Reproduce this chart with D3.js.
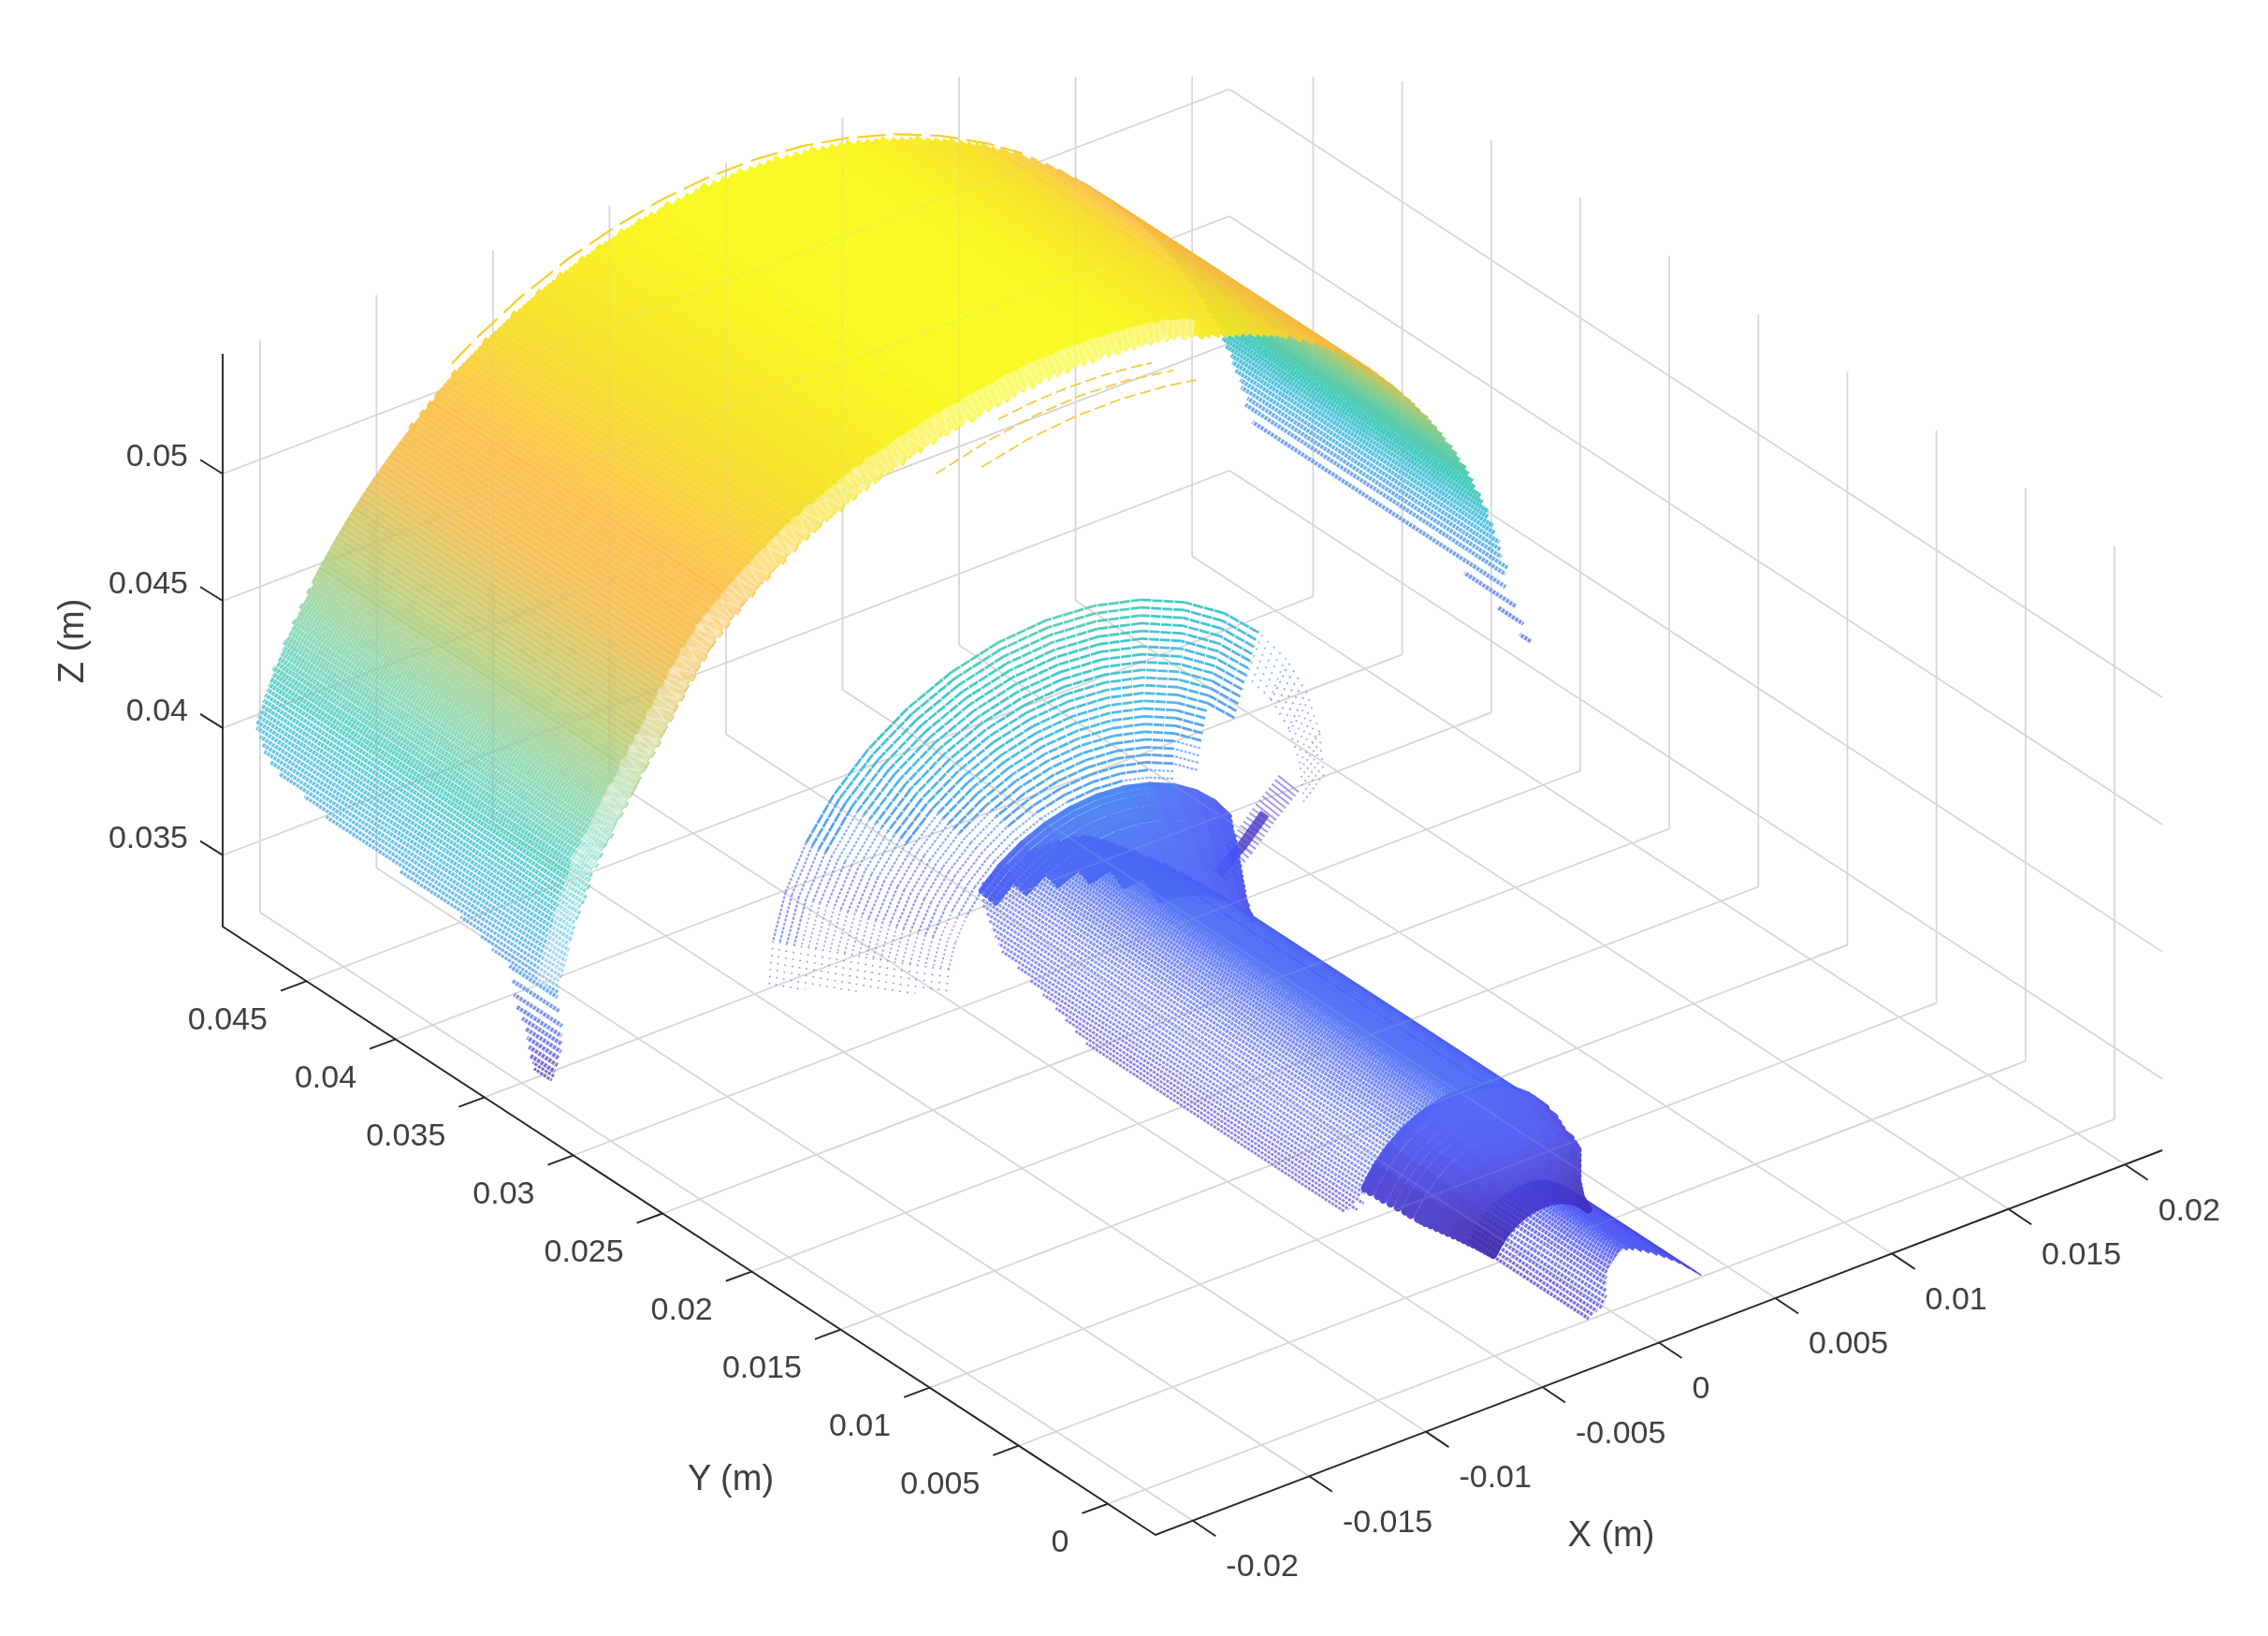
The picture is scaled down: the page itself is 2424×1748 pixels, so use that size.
<!DOCTYPE html>
<html><head><meta charset="utf-8">
<script src="https://cdnjs.cloudflare.com/ajax/libs/d3/7.8.5/d3.min.js"></script>
<style>html,body{margin:0;background:#fff}svg{display:block}text{font-family:"Liberation Sans",Arial,sans-serif;fill:#404040}</style>
</head><body><svg id="c" width="2424" height="1748"></svg>
<script>
// All lengths are millimetres; axis labels show metres.
const xLim=[-21.6,21.6], yLim=[-2.68,49.7], zLim=[32.19,54.72];
const xTicks=[-20,-15,-10,-5,0,5,10,15,20];
const xLabels=["-0.02","-0.015","-0.01","-0.005","0","0.005","0.01","0.015","0.02"];
const yTicks=[0,5,10,15,20,25,30,35,40,45];
const yLabels=["0","0.005","0.01","0.015","0.02","0.025","0.03","0.035","0.04","0.045"];
const zTicks=[35,40,45,50];
const zLabels=["0.035","0.04","0.045","0.05"];
const colorStops=[0,.06,.12,.2,.26,.33,.42,.52,.62,.72,.8,.9,1];
const colorValues=["#3e26a8","#4338d0","#4653f5","#4a68f5","#3f90f2","#2fb0e6","#22c2b8","#6ccc98","#b4c55f","#f0b840","#fcbb3e","#f6e020","#f9fb15"];

// arch, far side of the silhouette
const backX=[21.6,21.6,21.6,21.6,21.6,21.53,21.42,21.30,21.18,21.05,20.91,20.77,20.62,20.46,20.30,20.13,19.96,19.78,19.59,19.40,19.20,19.00,18.79,18.57,18.35,18.12,17.89,17.65,17.41,17.16,16.91,16.65,16.38,16.11,15.84,15.56];
const backZ=[36.0,36.5,37.0,37.5,38.0,38.37,38.75,39.12,39.49,39.86,40.23,40.59,40.95,41.31,41.67,42.02,42.37,42.72,43.06,43.40,43.74,44.07,44.40,44.73,45.05,45.37,45.68,45.99,46.30,46.60,46.90,47.19,47.48,47.76,48.04,48.31];
const backY0=[32.8,33.2,33.6,34.2,34.2,34.0,34.2,34.1,34.0,34.1,34.0,34.1,33.9,34.0,33.9,34.0,33.9,33.9,33.8,33.9,33.8,33.8,33.9,33.8,33.8,33.8,33.7,33.8,33.8,33.7,33.8,33.8,33.7,33.8,33.8,33.8];
const backY1=[33.4,34.6,36.5,48.4,48.8,48.6,48.8,48.7,48.8,48.8,48.7,48.8,48.8,48.7,48.8,48.8,48.8,48.7,48.8,48.8,48.8,48.8,48.8,48.8,48.8,48.8,48.8,48.8,48.8,48.8,48.8,48.8,48.8,48.8,48.8,48.8];

// arch, near side of the silhouette
const archX=[15.28,14.99,14.70,14.40,13.79,13.17,12.53,11.87,11.20,10.86,10.52,10.17,9.82,9.47,9.11,8.75,8.39,8.03,7.66,7.29,6.92,6.55,6.17,5.80,5.42,5.04,4.66,4.27,3.89,3.50,3.12,2.73,2.34,1.95,1.56,1.17,.78,.39,0,-.39,-.78,-1.17,-1.56,-1.95,-2.34,-2.73,-3.12,-3.50,-3.89,
-4.08,-4.27,-4.47,-4.66,-4.85,-5.04,-5.23,-5.42,-5.61,-5.80,-5.99,-6.17,-6.36,-6.55,-6.74,-6.92,-7.11,-7.29,-7.48,-7.66,-7.84,-8.03,-8.21,-8.39,-8.57,-8.75,-8.93,-9.11,-9.29,-9.47,-9.64,-9.82,-10.00,-10.17,-10.34,-10.52,-10.69,-10.86,-11.03,-11.20,-11.37,-11.54,-11.70,-11.87,-12.04,-12.20,-12.36,-12.53,-12.69,-12.85,-13.01,-13.17,-13.32,-13.48,-13.64,-13.79,-13.94,-14.10,-14.25,-14.40,-14.55,-14.70,-14.84,-14.99,-15.13,-15.28,-15.42,-15.56,-15.70,-15.84,-15.98,-16.11,-16.25,-16.38,-16.52,-16.65,-16.78,-16.91,-17.03,-17.16,-17.28,-17.41,-17.53,-17.65,-17.77,-17.89,-18.01,-18.12,-18.24,-18.35,-18.46,-18.57,-18.68,-18.79,-18.89,-19.00,-19.10,-19.20,-19.30,-19.40,-19.50,-19.59,-19.69,-19.78,-19.87,-19.96,-20.05,-20.13,-20.22,-20.30,-20.38,-20.46,-20.54,-20.62,-20.70,-20.77,-20.84,-20.91,-20.98,-21.05,-21.11,-21.18,-21.24,-21.30,-21.36,-21.42,-21.48,-21.53,-21.58,-21.60,
-21.5,-21.4,-21.2,-20.9,-20.6,-20.3,-20.0,-19.8,-19.6,-19.4];
const archZ=[48.58,48.85,49.11,49.36,49.85,50.32,50.77,51.20,51.60,51.79,51.98,52.16,52.33,52.50,52.66,52.82,52.97,53.11,53.25,53.38,53.50,53.62,53.73,53.84,53.93,54.03,54.11,54.19,54.26,54.32,54.38,54.43,54.48,54.51,54.55,54.57,54.59,54.60,54.60,54.60,54.59,54.57,54.55,54.51,54.48,54.43,54.38,54.32,54.26,
54.23,54.19,54.15,54.11,54.07,54.03,53.98,53.93,53.89,53.84,53.78,53.73,53.68,53.62,53.56,53.50,53.44,53.38,53.31,53.25,53.18,53.11,53.04,52.97,52.90,52.82,52.74,52.66,52.58,52.50,52.42,52.33,52.25,52.16,52.07,51.98,51.89,51.79,51.70,51.60,51.50,51.40,51.30,51.20,51.09,50.99,50.88,50.77,50.66,50.55,50.44,50.32,50.21,50.09,49.97,49.85,49.73,49.61,49.48,49.36,49.23,49.11,48.98,48.85,48.72,48.58,48.45,48.31,48.18,48.04,47.90,47.76,47.62,47.48,47.33,47.19,47.04,46.90,46.75,46.60,46.45,46.30,46.14,45.99,45.84,45.68,45.52,45.37,45.21,45.05,44.89,44.73,44.56,44.40,44.24,44.07,43.90,43.74,43.57,43.40,43.23,43.06,42.89,42.72,42.54,42.37,42.19,42.02,41.84,41.67,41.49,41.31,41.13,40.95,40.77,40.59,40.41,40.23,40.04,39.86,39.68,39.49,39.31,39.12,38.94,38.75,38.56,38.37,38.19,38.00,
37.4,36.8,36.2,35.6,35.0,34.4,33.8,33.3,32.9,32.5];
const archY0=[33.8,33.8,33.7,33.7,33.5,33.3,33.1,32.9,32.8,32.7,32.6,32.5,32.4,32.3,32.3,32.2,32.1,32.0,32.0,32.0,31.9,32.0,31.9,32.0,31.9,31.9,31.8,31.8,31.7,31.7,31.6,31.6,31.6,31.5,31.5,31.5,31.4,31.4,31.4,31.4,31.3,31.3,31.3,31.2,31.2,31.2,31.2,31.1,31.2,
31.2,31.1,31.2,31.1,31.2,31.2,31.1,31.2,31.2,31.1,31.2,31.2,31.2,31.1,31.2,31.2,31.2,31.3,31.2,31.2,31.3,31.2,31.3,31.3,31.2,31.3,31.3,31.2,31.3,31.3,31.3,31.4,31.3,31.3,31.4,31.3,31.4,31.4,31.3,31.4,31.4,31.3,31.4,31.4,31.4,31.3,31.4,31.4,31.4,31.3,31.4,31.4,31.4,31.3,31.4,31.4,31.3,31.4,31.3,31.4,31.3,31.3,31.3,31.2,31.3,31.2,31.2,31.1,31.2,31.1,
31.1,31.0,31.1,31.0,31.0,30.9,31.0,30.9,30.9,30.9,30.8,30.9,30.8,30.9,30.8,30.8,30.9,30.8,30.8,30.8,30.8,30.9,30.8,30.9,30.8,30.9,30.9,30.9,30.8,30.9,30.9,31.0,30.9,31.0,30.9,31.1,31.0,31.0,30.9,31.0,30.9,30.9,31.0,30.9,30.9,31.0,30.9,30.9,30.9,31.0,30.9,30.9,30.9,30.9,30.9,30.9,31.0,30.9,30.9,30.9,
30.9,30.9,31.2,31.6,32.0,32.5,33.0,33.4,33.7,34.1];
const archY1=[49.0,49.1,49.0,49.0,49.1,49.0,49.0,49.1,49.0,49.0,49.1,49.0,49.0,49.0,49.1,49.0,49.0,49.0,49.1,49.0,49.0,49.0,49.1,49.0,49.0,49.0,49.1,49.0,49.0,49.0,49.1,49.0,49.0,49.0,49.1,49.0,49.0,49.0,49.1,49.0,49.0,49.0,49.1,49.0,49.0,49.0,49.1,49.0,49.0,
49.0,49.1,49.0,49.0,49.0,49.1,49.0,49.0,49.0,49.0,49.1,49.0,49.0,49.0,49.1,49.0,49.0,49.0,49.0,49.1,49.0,49.0,49.0,49.0,49.1,49.0,49.0,49.0,49.0,49.0,49.1,49.0,49.0,49.0,49.0,49.0,49.0,49.1,49.0,49.0,49.0,49.0,49.0,49.0,49.0,49.1,49.0,49.0,49.0,49.0,49.0,48.9,49.0,48.9,49.0,48.9,48.9,49.0,48.9,48.9,48.9,48.9,48.9,48.9,48.9,48.9,48.9,48.9,48.9,48.9,
48.9,48.9,48.9,48.9,48.9,48.9,48.9,48.9,48.9,48.9,48.9,48.9,48.9,48.9,48.9,48.9,48.9,48.9,48.9,48.9,48.8,48.9,48.8,48.8,48.9,48.8,48.8,48.9,48.8,48.8,48.8,48.9,48.8,48.8,48.8,48.8,48.9,48.8,48.8,48.8,48.8,48.8,48.8,48.8,48.8,48.8,
48.8,48.7,48.4,48.2,48.0,47.6,47.0,45.5,44.2,40.0,36.5,35.3,34.6,33.6,
33.6,33.6,33.7,33.8,34.0,34.3,34.6,34.8,34.9,35.1];

// thin loose scan arcs outside the arch
const farArcX=[-12,-11,-9,-7,-5,-3,-1,1,3,5,7,9,11,12.5];
const farArcZ=[51.1,51.71,52.71,53.48,54.03,54.4,54.58,54.58,54.4,54.03,53.48,52.71,51.71,50.79];
const farArcY=49.4;
const strayY=[29.8,28.8,30.5];
const strayX=[[-6.2,-4,-2,0,2,4],[-5,-3,-1,1,3,4.2],[-3,-1.5,0,1.5,3,3.6]];
const strayZ=[[53.7,54.2,54.5,54.6,54.5,54.2],[54.0,54.4,54.58,54.58,54.4,54.2],[54.4,54.55,54.6,54.55,54.4,54.3]];

// horn: circular scan arcs, outer to inner
const arcCos=[1,.985,.94,.866,.766,.643,.5,.342,.174,0,-.174,-.342,-.5,-.643,-.766,-.866,-.94,-.985,-1];
const arcSin=[0,.174,.342,.5,.643,.766,.866,.94,.985,1,.985,.94,.866,.766,.643,.5,.342,.174,0];
const hornY=[34.6,34.45,34.27,34.1,33.93,33.77,33.6,33.43,33.27,33.1,32.93,32.77,32.6,32.43,32.27,32.1,31.93,31.77,31.6,31.43,31.27,31.1,30.93,30.77,30.6];
const hornCX=[2.2,2.15,2.1,2.06,2.02,1.98,1.94,1.9,1.86,1.82,1.78,1.74,1.7,1.66,1.62,1.58,1.54,1.5,1.47,1.44,1.42,1.4,1.38,1.36,1.35];
const hornRX=[11.9,11.67,11.45,11.22,11.0,10.77,10.55,10.32,10.1,9.87,9.65,9.42,9.2,8.97,8.75,8.52,8.3,8.07,7.85,7.62,7.4,7.17,6.95,6.72,6.5];
const hornRZ=[10.3,10.1,9.9,9.7,9.5,9.3,9.1,8.9,8.7,8.5,8.3,8.1,7.9,7.7,7.5,7.3,7.1,6.9,6.7,6.5,6.3,6.1,5.9,5.7,5.5];
const hornFirst=[4,4,4,4,4,4,4,4,4,4,4,4,4,5,5,5,5,5,5,5,5,5,6,6,6]; // first solid index into arcCos
const hornTail=[1,1,1,1,1,1,1,0,0,0,0,0,0,0,0,0,0,0,0,0,0,0,0,0,0]; // 1: sparse dots beyond it
const hornZ0=32.5;
const neckY=[30.6,30.35,30.1,29.85,29.6,29.35,29.1,28.85,28.6,28.35,28.1,27.85,27.6,27.35,27.1,26.85,26.6,26.35,26.1,25.85,25.6,25.35];
const neckCX=[1.35,1.28,1.22,1.15,1.08,1.02,.95,.88,.82,.75,.68,.62,.55,.48,.42,.35,.28,.22,.15,.08,.04,0];
const neckRX=[6.5,6.4,6.3,6.2,6.15,6.05,5.95,5.85,5.75,5.65,5.55,5.45,5.35,5.25,5.15,5.05,4.95,4.85,4.8,4.7,4.65,4.6];
const neckRZ=[5.5,5.42,5.34,5.28,5.2,5.14,5.08,5.0,4.95,4.9,4.85,4.8,4.75,4.7,4.65,4.6,4.55,4.5,4.45,4.4,4.35,4.3];
const neckLast=[14,14,14,14,13,13,13,12,12,12,11,11,11,10,10,10,10,9,9,9,9,9];

// shaft, rows along Y
const shaftX=[3.20,2.96,2.70,2.44,2.16,1.87,1.57,1.42,1.27,1.11,.96,.80,.64,.48,.32,.16,0,-.16,-.32,-.48,-.64,-.80,-.96,-1.11,-1.27,-1.42,-1.57,-1.72,-1.87,-2.02,-2.16,-2.30,-2.44,-2.57,-2.70,-2.83,-2.96,-3.08,-3.20,-3.31,-3.42,-3.52,-3.62,-3.72,-3.81,-3.90,-3.98,-4.06,-4.13,-4.20,-4.27,-4.32,-4.37,-4.42];
const shaftZ=[35.51,35.72,35.92,36.10,36.26,36.40,36.52,36.57,36.62,36.66,36.70,36.73,36.76,36.77,36.79,36.80,36.80,36.80,36.79,36.77,36.76,36.73,36.70,36.66,36.62,36.57,36.52,36.46,36.40,36.33,36.26,36.18,36.10,36.01,35.92,35.82,35.72,35.62,35.51,35.40,35.28,35.16,35.03,34.90,34.77,34.64,34.50,34.36,34.22,34.07,33.92,33.77,33.62,33.47];
const shaftY0=[9.1,9.0,8.9,8.8,8.7,8.7,8.6,8.6,8.5,8.6,8.5,8.5,8.5,8.6,8.5,8.5,8.4,8.5,8.5,8.4,8.5,8.4,8.4,8.5,8.4,8.4,8.3,8.4,8.4,8.3,8.4,8.3,8.3,8.4,8.3,8.3,8.2,8.3,8.3,8.2,8.3,8.2,8.2,8.3,8.4,8.6,8.3,8.5,8.7,8.4,8.8,8.6,9.0,9.2];
const shaftY1=[25.2,26.0,26.8,27.4,28.0,28.5,29.0,29.4,29.7,30.0,30.2,30.4,30.5,30.5,30.6,30.6,30.6,30.6,30.7,30.7,30.8,30.8,30.8,30.9,30.9,31.0,31.0,31.0,31.1,31.1,31.2,31.2,31.3,31.3,31.4,31.4,31.5,31.4,31.3,31.0,30.8,30.5,30.2,29.9,29.6,29.3,29.0,28.0,27.2,26.4,25.6,25.0,24.4,23.7];
// cone between shaft and tip: arcs at constant Y
const coneY=[8.6,8.3,8.0,7.7,7.4,7.1,6.8,6.5,6.2,6.05,5.9,5.75,5.6,5.45,5.3,5.15,5.0,4.85,4.7,4.55,4.4,4.25,4.1,3.95,3.8];
const coneR=[4.6,4.6,4.5,4.5,4.4,4.3,4.2,4.2,4.1,4.05,4.0,3.85,3.7,3.55,3.4,3.25,3.1,3.0,2.9,2.8,2.7,2.65,2.6,2.55,2.5];
const tipX=[1.88,1.74,1.59,1.43,1.27,1.10,.92,.74,.56,.38,.19,0,-.19,-.38,-.56,-.74,-.92,-1.10,-1.27,-1.43,-1.59,-1.74,-1.88,-2.01,-2.13,-2.24,-2.34];
const tipZ=[34.14,34.27,34.38,34.49,34.58,34.67,34.74,34.80,34.84,34.87,34.89,34.90,34.89,34.87,34.84,34.80,34.74,34.67,34.58,34.49,34.38,34.27,34.14,34.01,33.86,33.71,33.55];
const tipY0=[-2.6,-2.5,-2.3,-2.0,-1.8,-1.6,-1.4,-1.2,-1.0,-.8,-.7,-.6,-.7,-.8,-.9,-1.0,-1.1,-1.2,-1.4,-1.6,-1.8,-2.0,-2.1,-2.1,-2.0,-1.9,-1.8];
const tipY1=[5,5,5,5,5,5,5,5,5,5,5,5,5,5,5,5,5,5,5,5,5,5,5,5,5,5,5];

// underside comb behind the hole
const streakX=[7.2,8.4,9.6,10.8], streakY=[31.5,31.7,32.0,32.2], streakZ=[32.5,33.1,33.8,34.5];

const svg=d3.select("#c");
const defs=svg.append("defs");
defs.append("filter").attr("id","soft").attr("x","-2%").attr("y","-2%").attr("width","104%").attr("height","104%").append("feGaussianBlur").attr("stdDeviation",.7);
defs.append("clipPath").attr("id","top").append("rect").attr("x",0).attr("y",82).attr("width",2424).attr("height",1666);

const O=[1235,1640], EX=[1076,-411], EY=[-997,-650], EZ=[0,-612];
const fx=d3.scaleLinear().domain(xLim).range([0,1]);
const fy=d3.scaleLinear().domain(yLim).range([0,1]);
const fz=d3.scaleLinear().domain(zLim).range([0,1]);
const P=(x,y,z)=>[O[0]+fx(x)*EX[0]+fy(y)*EY[0]+fz(z)*EZ[0], O[1]+fx(x)*EX[1]+fy(y)*EY[1]+fz(z)*EZ[1]];
const parula=d3.scaleLinear().domain(colorStops).range(colorValues).clamp(true);
const col=z=>parula(fz(z));
const line=d3.line().x(d=>P(d[0],d[1],d[2])[0]).y(d=>P(d[0],d[1],d[2])[1]);
const nLen=Math.hypot(EY[0],EY[1]), N=[EY[1]/nLen,-EY[0]/nLen];
const perp=(x,z)=>{const p=P(x,0,z);return p[0]*N[0]+p[1]*N[1];};

const root=svg.append("g").attr("filter","url(#soft)");
function grid(g){
  g.attr("clip-path","url(#top)").attr("fill","none").attr("stroke","#d6d6d6").attr("stroke-width",1.7);
  const L=(a,b)=>g.append("path").attr("d",line([a,b]));
  xTicks.forEach(x=>{L([x,yLim[0],zLim[0]],[x,yLim[1],zLim[0]]);L([x,yLim[1],zLim[0]],[x,yLim[1],zLim[1]]);});
  yTicks.forEach(y=>{L([xLim[0],y,zLim[0]],[xLim[1],y,zLim[0]]);L([xLim[1],y,zLim[0]],[xLim[1],y,zLim[1]]);});
  zTicks.forEach(z=>{L([xLim[0],yLim[1],z],[xLim[1],yLim[1],z]);L([xLim[1],yLim[1],z],[xLim[1],yLim[0],z]);});
}
grid(root.append("g"));

// solid(x,z) runs 0..1: 0 shows the row as a thin dotted line, 1 closes it up with its neighbours
function rows(X,Z,Y0,Y1,solid,opacity){
  const g=root.append("g").attr("fill","none");
  X.forEach((x,i)=>{
    const a=i>0?Math.abs(perp(x,Z[i])-perp(X[i-1],Z[i-1])):0, b=i<X.length-1?Math.abs(perp(x,Z[i])-perp(X[i+1],Z[i+1])):0;
    const t=solid(x,Z[i]), s=Math.max(a,b), k=.62+.5*t;
    let w=Math.max(1.7,s*k+(t>=1?.3:0));
    if(t<.4) w=Math.min(w,4.4);
    const gap=1.1*(1-t);
    g.append("path").attr("d",line([[x,Y0[i],Z[i]],[x,Y1[i],Z[i]]]))
      .attr("stroke",col(Z[i])).attr("stroke-width",w).attr("stroke-opacity",opacity(x,Z[i]))
      .attr("stroke-dasharray",gap>.08?`3.2 ${gap.toFixed(2)}`:null).attr("stroke-dashoffset",i*1.7);
  });
}
const ramp=(a,b,lo=0,hi=1)=>d3.scaleLinear().domain([a,b]).range([lo,hi]).clamp(true);
function arc(g,cx,y,rx,rz,z0,from,to,style){
  for(let a=from;a<to;a++){
    const p=[cx+rx*arcCos[a],y,z0+rz*arcSin[a]], q=[cx+rx*arcCos[a+1],y,z0+rz*arcSin[a+1]];
    const zm=(p[2]+q[2])/2, st=style(zm);
    g.append("path").attr("d",line([p,q])).attr("stroke",st.c||col(zm)).attr("stroke-width",st.w).attr("stroke-opacity",st.o).attr("stroke-dasharray",st.d).attr("stroke-linecap",st.d?null:"round");
  }
}
// far side, then horn, then near side and shaft on top
const zBack=ramp(37.5,43), zArch=ramp(38.5,46), xShaft=ramp(-3.2,.2), xTip=ramp(-1.6,.4);
const oBack=ramp(37.5,43,.72,.92), oArch=ramp(46,53,.72,.92), oShaft=ramp(-3.2,.2,.62,.92), oTip=ramp(-1.6,.4,.72,.92);
rows(backX,backZ,backY0,backY1,(x,z)=>zBack(z),(x,z)=>oBack(z));
const hornG=root.append("g").attr("fill","none");
hornY.forEach((y,k)=>{
  const first=hornFirst[k];
  arc(hornG,hornCX[k],y,hornRX[k],hornRZ[k],hornZ0,first,18,z=>z>38?{w:2.8,o:.85,d:"11 1"}:z>35?{w:2.2,o:.62,d:"3 1.5"}:z>33.6?{w:1.9,o:.5,d:"2 2.6"}:{w:1.8,o:.55,d:"1.5 6"});
  if(hornTail[k]) arc(hornG,hornCX[k],y,hornRX[k],hornRZ[k],hornZ0,0,first,z=>({w:2,o:.6,d:"1.8 7",c:z<35.5?"#7a70ea":col(z)}));
});
const streak=streakX.map((x,i)=>[x,streakY[i],streakZ[i]]);
root.append("path").attr("d",line(streak)).attr("fill","none").attr("stroke","#5a48d8").attr("stroke-width",28).attr("stroke-opacity",.55).attr("stroke-dasharray","2 3.5");
root.append("path").attr("d",line(streak.slice(0,3))).attr("fill","none").attr("stroke","#4a3ac8").attr("stroke-width",11).attr("stroke-opacity",.8);

rows(archX,archZ,archY0,archY1,(x,z)=>zArch(z),(x,z)=>oArch(z));
rows(tipX,tipZ,tipY0,tipY1,(x,z)=>xTip(x),(x,z)=>oTip(x));
const coneG=root.append("g").attr("fill","none").attr("opacity",.9);
coneY.forEach((y,k)=>arc(coneG,0,y,coneR[k],coneR[k],32.2,4,15,z=>({w:9,o:1,d:null,c:col(z-1.2)})));
const neckG=root.append("g").attr("fill","none").attr("opacity",.92);
neckY.forEach((y,k)=>arc(neckG,neckCX[k],y,neckRX[k],neckRZ[k],hornZ0,3,neckLast[k],z=>({w:6.5,o:1,d:null,c:col(z-.4)})));
rows(shaftX,shaftZ,shaftY0,shaftY1,(x,z)=>xShaft(x),(x,z)=>oShaft(x));
arc(root.append("g").attr("fill","none"),hornCX[24],30.95,hornRX[24],hornRZ[24]+.25,hornZ0,7,12,()=>({w:3,o:.9,d:"14 7",c:"#fff"}));

// lacy band just inside the near rim
const rim=archX.map((x,i)=>[x,archY0[i]+.6,archZ[i]]).filter(d=>d[0]<7&&d[2]>38);
root.append("path").attr("d",line(rim)).attr("fill","none").attr("stroke","#fff").attr("stroke-width",24).attr("stroke-opacity",.34);
root.append("path").attr("d",line(rim)).attr("fill","none").attr("stroke","#fff").attr("stroke-width",20).attr("stroke-opacity",.3).attr("stroke-dasharray","2 5");
// loose arcs
root.append("path").attr("d",line(farArcX.map((x,i)=>[x,farArcY,farArcZ[i]]))).attr("fill","none").attr("stroke","#f6cf2e").attr("stroke-width",2.2).attr("stroke-dasharray","30 9");
strayY.forEach((y,k)=>root.append("path").attr("d",line(strayX[k].map((x,i)=>[x,y,strayZ[k][i]]))).attr("fill","none").attr("stroke","#f3cb45").attr("stroke-width",1.8).attr("stroke-dasharray","12 5"));
grid(root.append("g").attr("opacity",.16));

// axes
const ax=root.append("g").attr("fill","none").attr("stroke","#262626").attr("stroke-width",1.9);
ax.append("path").attr("d",line([[xLim[0],yLim[1],zLim[1]],[xLim[0],yLim[1],zLim[0]],[xLim[0],yLim[0],zLim[0]],[xLim[1],yLim[0],zLim[0]]]));
const tick=(p,dx,dy)=>ax.append("path").attr("d",d3.line()([p,[p[0]+dx,p[1]+dy]]));
const lab=root.append("g").attr("font-size",34);
xTicks.forEach((x,i)=>{const p=P(x,yLim[0],zLim[0]);tick(p,24.5,16.5);
  lab.append("text").attr("x",p[0]+24.5+11).attr("y",p[1]+16.5+31).attr("dominant-baseline","central").text(xLabels[i]);});
yTicks.forEach((y,i)=>{const p=P(xLim[0],y,zLim[0]);tick(p,-27.5,10.2);
  lab.append("text").attr("x",p[0]-27.5-14).attr("y",p[1]+10.2+29).attr("text-anchor","end").attr("dominant-baseline","central").text(yLabels[i]);});
zTicks.forEach((z,i)=>{const p=P(xLim[0],yLim[1],z);tick(p,-24,-15);
  lab.append("text").attr("x",p[0]-24-13).attr("y",p[1]-15-5).attr("text-anchor","end").attr("dominant-baseline","central").text(zLabels[i]);});
const t2=root.append("g").attr("font-size",38).attr("text-anchor","middle");
t2.append("text").attr("x",781).attr("y",1579).attr("dominant-baseline","central").text("Y (m)");
t2.append("text").attr("x",1722).attr("y",1639).attr("dominant-baseline","central").text("X (m)");
t2.append("text").attr("transform","translate(76,685) rotate(-90)").attr("dominant-baseline","central").text("Z (m)");
</script></body></html>
